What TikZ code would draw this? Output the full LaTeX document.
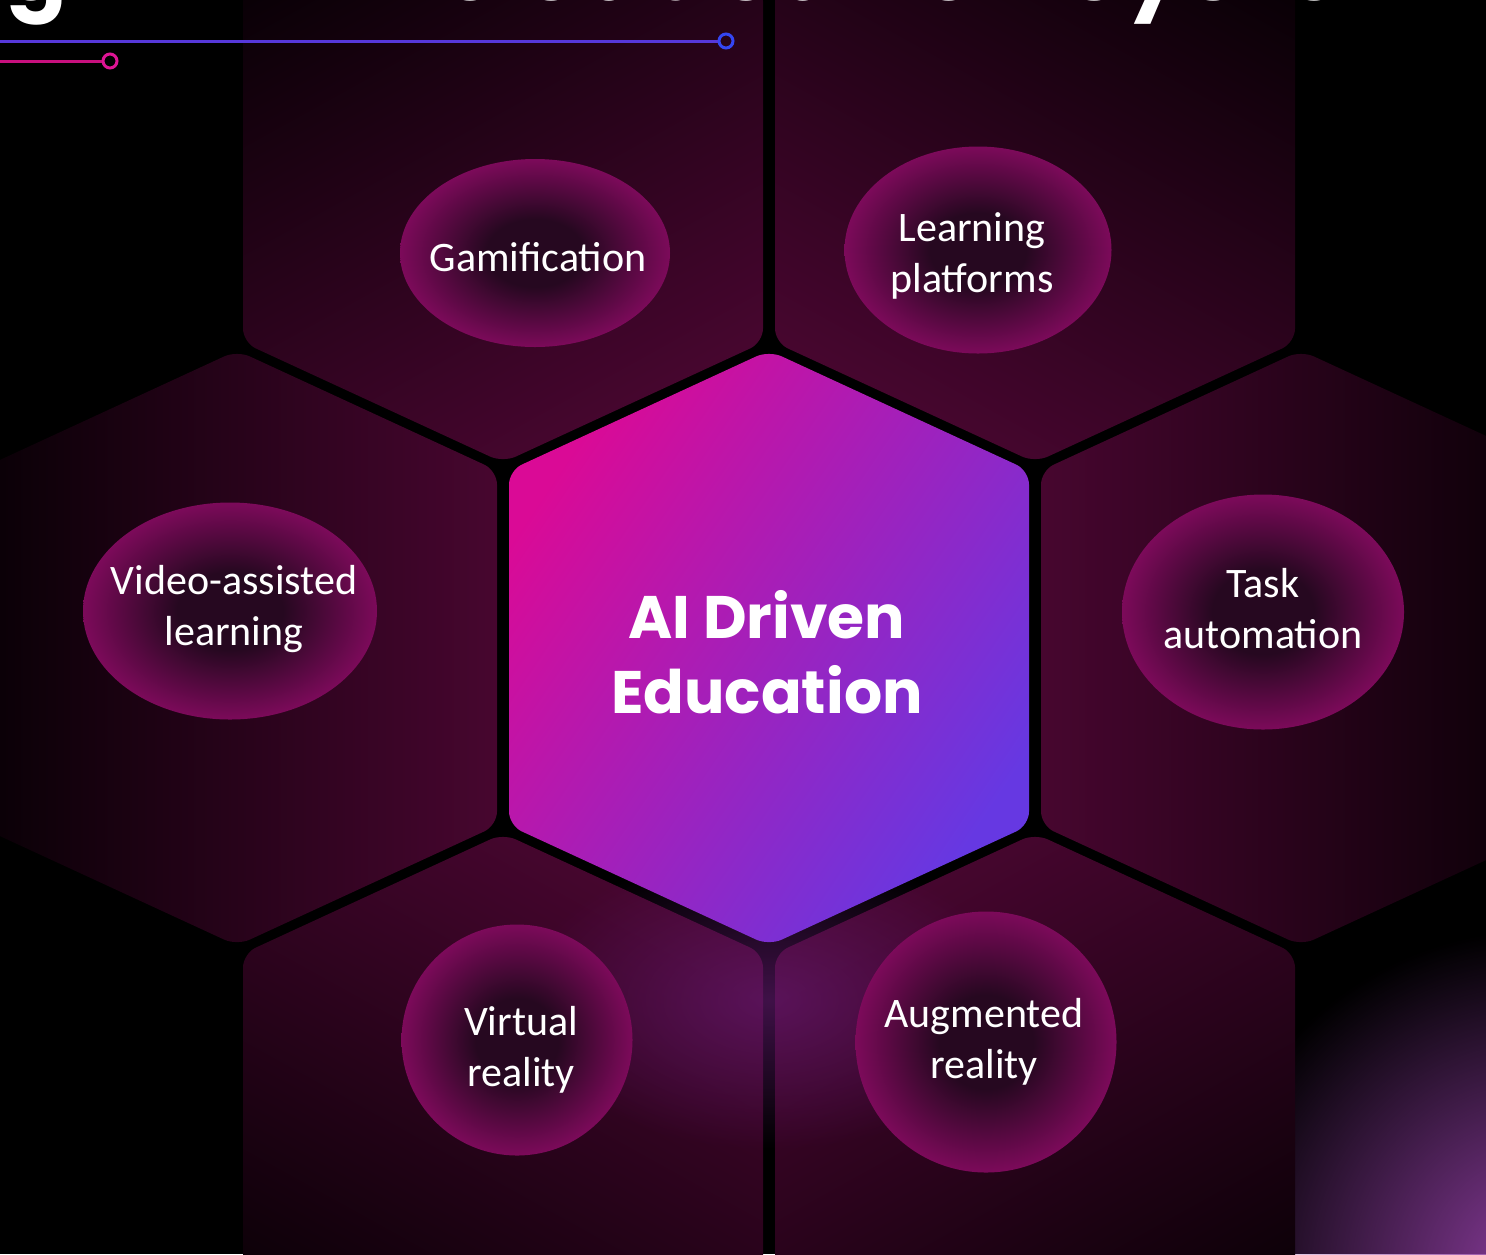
\documentclass[tikz,border=0pt]{standalone}
\usepackage{fontspec}
\setmainfont{Carlito}
\newfontfamily\headfont{Poppins}
\newfontfamily\titlefont{Poppins}[LetterSpace=6.5]
\usepackage{tikz}
\usetikzlibrary{shapes.geometric, fadings}

\definecolor{hexdark}{HTML}{080005}
\definecolor{hexlite}{HTML}{47062F}
\definecolor{coremag}{HTML}{DA0A96}
\definecolor{coreviolet}{HTML}{6638E2}
\definecolor{bubcore}{HTML}{260820}
\definecolor{bubrim}{HTML}{7C0A5A}
\definecolor{glowpurple}{HTML}{8A3C9C}
\definecolor{glowmid}{HTML}{6A1C78}
\definecolor{lineblue}{HTML}{5638DA}
\definecolor{ringblue}{HTML}{3446F2}
\definecolor{linepink}{HTML}{C8107E}
\definecolor{ringpink}{HTML}{DE1494}

\pgfdeclareradialshading{bubble}{\pgfpoint{0bp}{0bp}}{color(0bp)=(bubcore); color(9bp)=(bubcore); color(25bp)=(bubrim); color(50bp)=(bubrim)}
\tikzfading[name=glowfade, inner color=transparent!0, outer color=transparent!100]

% pointy hexagon, 520 x 595 px
\newcommand{\hexpath}{(0,-297.5) -- (260,-177.5) -- (260,177.5) -- (0,297.5) -- (-260,177.5) -- (-260,-177.5) -- cycle}

\begin{document}
\begin{tikzpicture}[x=0.5pt, y=-0.5pt]
    \tikzstyle{hexcell} = [rounded corners=7pt, top color=hexlite, bottom color=hexdark]
    \tikzstyle{corecell} = [rounded corners=7pt, top color=coremag, bottom color=coreviolet, shading angle=56]
    \tikzstyle{bubble} = [ellipse, shade, shading=bubble, inner sep=0pt]
    \tikzstyle{bubtext} = [text=white, align=center, font=\fontsize{21}{25.5}\selectfont]
    \tikzstyle{coretext} = [text=white, align=center, font=\headfont\bfseries\fontsize{30}{37.5}\selectfont]
    \tikzstyle{titletext} = [text=white, inner sep=0pt, font=\titlefont\bfseries\fontsize{45}{50}\selectfont]
    \tikzstyle{ring} = [circle, draw, minimum size=7pt, inner sep=0pt, line width=1.5pt]

    % Canvas
    \useasboundingbox (0,0) rectangle (1486,1254);
    \clip (0,0) rectangle (1486,1254);
    \fill[black] (0,0) rectangle (1486,1254);
    \fill[glowpurple, path fading=glowfade] (1540,1270) circle (340);

    % Honeycomb
    \path[hexcell, shift={(503,165)}, shading angle=-151] \hexpath;
    \path[hexcell, shift={(1035,165)}, shading angle=151] \hexpath;
    \path[hexcell, shift={(237,648)}, shading angle=-90] \hexpath;
    \path[hexcell, shift={(1301,648)}, shading angle=90] \hexpath;
    \path[hexcell, shift={(503,1131)}, shading angle=-29] \hexpath;
    \path[hexcell, shift={(1035,1131)}, shading angle=29] \hexpath;
    \fill[glowmid, path fading=glowfade, opacity=0.6] (769,1000) ellipse (250 and 150);
    \path[corecell, shift={(769,648)}] \hexpath;

    % Bubbles
    \node (gam) [bubble, minimum width=135pt, minimum height=94pt] at (535,253) {};
    \node (plat) [bubble, minimum width=133.5pt, minimum height=103.5pt] at (978,250) {};
    \node (video) [bubble, minimum width=147pt, minimum height=108.5pt] at (230,611) {};
    \node (task) [bubble, minimum width=141pt, minimum height=117.5pt] at (1263,612) {};
    \node (vr) [bubble, minimum width=115.5pt, minimum height=115.5pt] at (517,1040) {};
    \node (ar) [bubble, minimum width=130.5pt, minimum height=130.5pt] at (986,1042) {};

    % Labels
    \node (gamtxt) [bubtext, xshift=1.5pt, yshift=-2pt] at (gam.center) {Gamification};
    \node (plattxt) [bubtext, xshift=-3pt, yshift=-3pt] at (plat.center) {Learning\\platforms};
    \node (videotxt) [bubtext, xshift=2pt, yshift=1pt] at (video.center) {Video-assisted\\learning};
    \node (tasktxt) [bubtext, yshift=1.5pt] at (task.center) {Task\\automation};
    \node (vrtxt) [bubtext, xshift=2pt, yshift=-5pt] at (vr.center) {Virtual\\reality};
    \node (artxt) [bubtext, xshift=-1pt] at (ar.center) {Augmented\\reality};
    \node (core) [coretext] at (767,652) {AI Driven\\Education};

    % Title and rules
    \node (title) [titletext, anchor=base west] at (6,0) {g AI in the education system};
    \coordinate (bluefrom) at (0,41);
    \coordinate (pinkfrom) at (0,61);
    \node (bluering) [ring, draw=ringblue] at (726,41) {};
    \node (pinkring) [ring, draw=ringpink] at (110,61) {};
    \draw [lineblue, line width=1.5pt] (bluefrom) -- (bluering);
    \draw [linepink, line width=1.5pt] (pinkfrom) -- (pinkring);
\end{tikzpicture}
\end{document}
